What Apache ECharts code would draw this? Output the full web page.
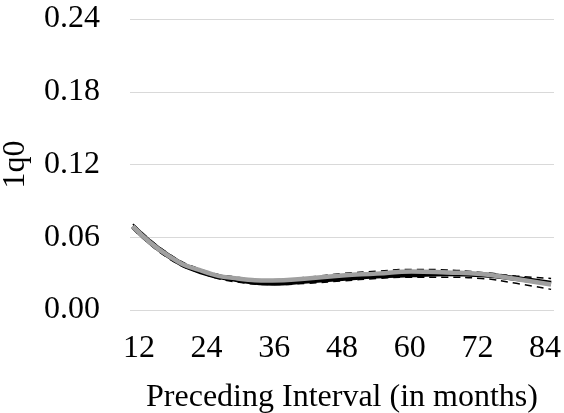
<!DOCTYPE html>
<html>
<head>
<meta charset="utf-8">
<script src="https://cdn.jsdelivr.net/npm/echarts@6/dist/echarts.min.js"></script>
<style>
  html, body { margin: 0; padding: 0; background: #fff; }
  #main { width: 564px; height: 413px; }
</style>
</head>
<body>
<div id="main"></div>
<script>
var months = [];
for (var m = 12; m <= 84; m++) { months.push(String(m)); }

// points, every 6 months
var readAt = ['12', '18', '24', '30', '36', '42', '48', '54', '60', '66', '72', '78', '84'];
var observed = [0.069, 0.045, 0.031, 0.025, 0.022, 0.024, 0.026, 0.028, 0.029, 0.030, 0.029, 0.026, 0.022];
var fitted   = [0.069, 0.045, 0.032, 0.026, 0.0243, 0.026, 0.0285, 0.030, 0.0317, 0.031, 0.0297, 0.0255, 0.021];
var upper    = [0.071, 0.047, 0.033, 0.027, 0.025, 0.027, 0.030, 0.032, 0.0335, 0.033, 0.031, 0.028, 0.026];
var lower    = [0.067, 0.043, 0.030, 0.023, 0.021, 0.022, 0.024, 0.026, 0.027, 0.027, 0.026, 0.022, 0.017];

var yTicks = [0, 0.06, 0.12, 0.18, 0.24];

function pairs(vals) {
  var out = [];
  for (var i = 0; i < readAt.length; i++) {
    out.push([readAt[i], vals[i]]);
  }
  return out;
}

var chart = echarts.init(document.getElementById('main'));
var font = '"Liberation Serif", "Times New Roman", serif';

// the x labels in the picture sit a little closer together than the categories
var labelNudge = { '12': 'r6', '24': 'r4', '36': 'r2', '48': 'c', '60': 'l2', '72': 'l4', '84': 'l6' };
var labelRich = {};
[['c', 0, 0], ['r2', 4, 0], ['r4', 8, 0], ['r6', 12, 0], ['l2', 0, 4], ['l4', 0, 8], ['l6', 0, 12]].forEach(function (d) {
  labelRich[d[0]] = { color: '#000', fontFamily: font, fontSize: 32, padding: [0, d[2], 0, d[1]] };
});

var option = {
  animation: false,
  textStyle: { fontFamily: font },
  grid: { left: 130, right: 10, top: 19, bottom: 103, outerBoundsMode: 'none', containLabel: false },
  xAxis: {
    type: 'category',
    data: months,
    boundaryGap: true,
    axisLine: { show: false },
    axisTick: { show: false },
    axisLabel: {
      interval: 11, color: '#000', fontFamily: font, fontSize: 32, margin: 23,
      formatter: function (v) { return '{' + (labelNudge[v] || 'c') + '|' + v + '}'; },
      rich: labelRich
    },
    name: 'Preceding Interval (in months)',
    nameLocation: 'middle',
    nameGap: 72,
    nameTextStyle: { color: '#000', fontFamily: font, fontSize: 32 }
  },
  yAxis: {
    type: 'value',
    min: yTicks[0],
    max: yTicks[yTicks.length - 1],
    interval: 0.06,
    axisLine: { show: false },
    axisTick: { show: false },
    axisLabel: {
      color: '#000', fontFamily: font, fontSize: 32, margin: 30,
      formatter: function (v) { return v.toFixed(2); }
    },
    splitLine: { lineStyle: { color: '#d9d9d9', width: 1 } },
    name: '1q0',
    nameLocation: 'middle',
    nameGap: 98,
    nameTextStyle: { color: '#000', fontFamily: font, fontSize: 32 }
  },
  series: [
    {
      name: 'observed', type: 'line', smooth: true, symbol: 'none',
      data: pairs(observed), z: 2,
      lineStyle: { color: '#000', width: 5 }
    },
    {
      name: 'upper', type: 'line', smooth: true, symbol: 'none',
      data: pairs(upper), z: 3,
      lineStyle: { color: '#000', width: 1.5, type: [7, 5] }
    },
    {
      name: 'lower', type: 'line', smooth: true, symbol: 'none',
      data: pairs(lower), z: 3,
      lineStyle: { color: '#000', width: 1.5, type: [7, 5] }
    },
    {
      name: 'fitted', type: 'line', smooth: true, symbol: 'none',
      data: pairs(fitted), z: 4,
      lineStyle: { color: '#a0a0a0', width: 4.5 }
    }
  ]
};

chart.setOption(option);
</script>
</body>
</html>
